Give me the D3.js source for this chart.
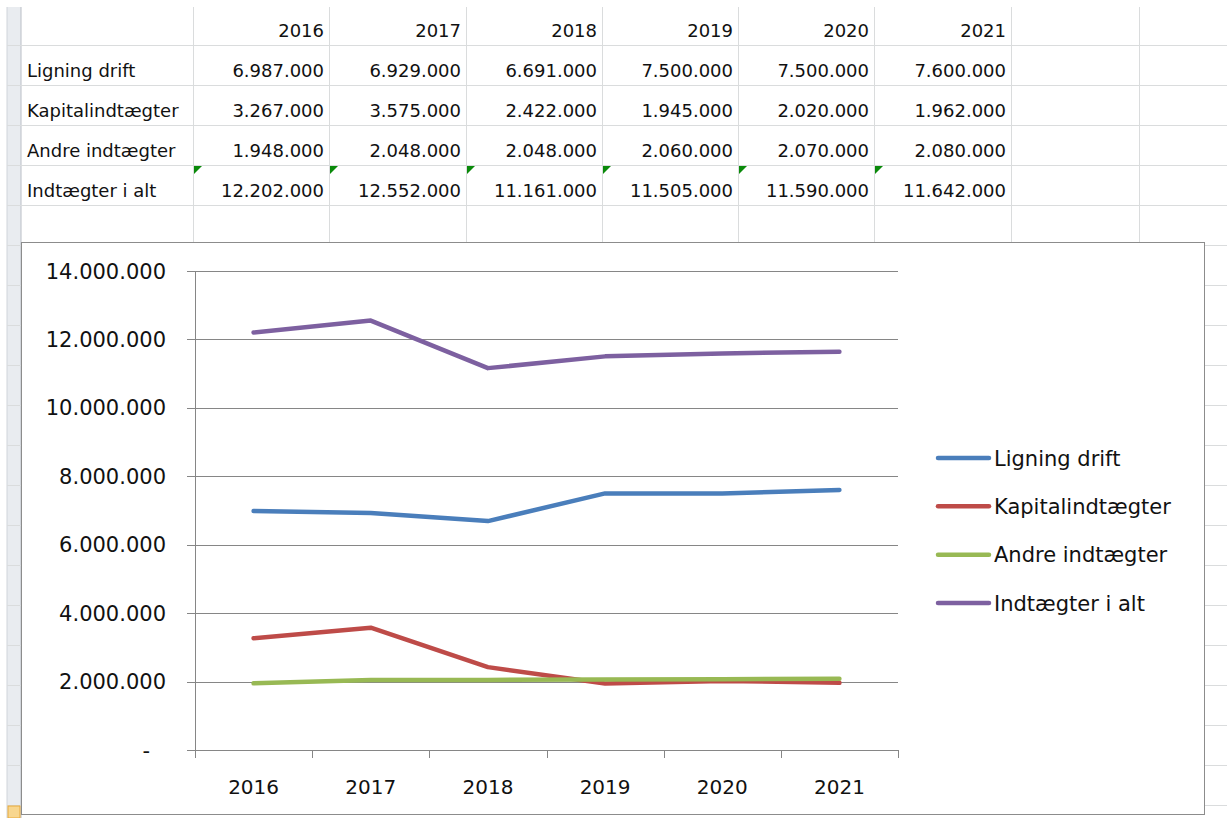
<!DOCTYPE html>
<html>
<head>
<meta charset="utf-8">
<script src="https://cdn.jsdelivr.net/npm/d3@7"></script>
<style>
  html, body { margin: 0; padding: 0; background: #fff; }
  svg { display: block; font-family: 'DejaVu Sans', sans-serif; }
</style>
</head>
<body>
<div id="container"></div>
<script>
const years = ['2016', '2017', '2018', '2019', '2020', '2021'];
const seriesNames = ['Ligning drift', 'Kapitalindtægter', 'Andre indtægter', 'Indtægter i alt'];
const ligningDrift = [6987000, 6929000, 6691000, 7500000, 7500000, 7600000];
const kapitalindtaegter = [3267000, 3575000, 2422000, 1945000, 2020000, 1962000];
const andreIndtaegter = [1948000, 2048000, 2048000, 2060000, 2070000, 2080000];
const indtaegterIAlt = [12202000, 12552000, 11161000, 11505000, 11590000, 11642000];
const yTicks = [0, 2000000, 4000000, 6000000, 8000000, 10000000, 12000000, 14000000];
const seriesColors = ['#4a7ebb', '#be4b48', '#98b954', '#7d60a0'];

const WIDTH = 1227;
const HEIGHT = 818;

const series = [ligningDrift, kapitalindtaegter, andreIndtaegter, indtaegterIAlt].map((values, i) => ({
  name: seriesNames[i],
  color: seriesColors[i],
  values: values,
}));

const da = d3.formatLocale({ decimal: ',', thousands: '.', grouping: [3], currency: ['', ' kr.'] });
const fmt = da.format(',');

const svg = d3
  .select('#container')
  .append('svg')
  .attr('width', WIDTH)
  .attr('height', HEIGHT);

// ---- spreadsheet behind the chart ----
const sheet = svg.append('g').attr('id', 'sheet');
const colEdges = [21, 193, 329, 466, 602, 738, 874, 1011, 1139];
const rowY = d3.scaleLinear().domain([0, 1]).range([5, 45]); // row k top = rowY(k) - 40

// row header strip
sheet.append('rect').attr('x', 7).attr('y', 7).attr('width', 14).attr('height', HEIGHT - 7).attr('fill', '#e9ecf0');
sheet.append('line').attr('x1', 21).attr('x2', 21).attr('y1', 7).attr('y2', HEIGHT).attr('stroke', '#b9bec6');
sheet.append('line').attr('x1', 7).attr('x2', 7).attr('y1', 7).attr('y2', HEIGHT).attr('stroke', '#d0d4da');

const rowLines = d3.range(1, 21).map((k) => rowY(k));
sheet
  .selectAll('line.hrow')
  .data(rowLines)
  .enter()
  .append('line')
  .attr('class', 'hrow')
  .attr('x1', 7)
  .attr('x2', WIDTH)
  .attr('y1', (d) => d + 0.5)
  .attr('y2', (d) => d + 0.5)
  .attr('stroke', '#dadcdd');

sheet
  .selectAll('line.vcol')
  .data(colEdges.slice(1))
  .enter()
  .append('line')
  .attr('class', 'vcol')
  .attr('x1', (d) => d + 0.5)
  .attr('x2', (d) => d + 0.5)
  .attr('y1', 7)
  .attr('y2', 245)
  .attr('stroke', '#dadcdd');

// selected-row marker at the bottom of row header
sheet.append('rect').attr('x', 8).attr('y', 806).attr('width', 12).attr('height', 12).attr('fill', '#f8d68e').attr('stroke', '#e8a93a');

const cellFont = 18;
// header years
sheet
  .selectAll('text.year')
  .data(years)
  .enter()
  .append('text')
  .attr('class', 'year')
  .attr('x', (d, i) => colEdges[i + 2] - 5)
  .attr('y', rowY(0) + 32)
  .attr('text-anchor', 'end')
  .attr('font-size', cellFont)
  .attr('fill', '#111')
  .text((d) => d);

const rows = sheet
  .selectAll('g.row')
  .data(series)
  .enter()
  .append('g')
  .attr('class', 'row')
  .attr('transform', (d, i) => `translate(0, ${rowY(i + 1)})`);

rows
  .append('text')
  .attr('x', 27)
  .attr('y', 32)
  .attr('font-size', cellFont)
  .attr('fill', '#111')
  .text((d) => d.name);

rows
  .selectAll('text.val')
  .data((d) => d.values)
  .enter()
  .append('text')
  .attr('class', 'val')
  .attr('x', (d, i) => colEdges[i + 2] - 5)
  .attr('y', 32)
  .attr('text-anchor', 'end')
  .attr('font-size', cellFont)
  .attr('fill', '#111')
  .text((d) => fmt(d));

// green error-indicator triangles on the total row
rows
  .filter((d, i) => i === 3)
  .selectAll('path.tri')
  .data(years)
  .enter()
  .append('path')
  .attr('class', 'tri')
  .attr('d', (d, i) => {
    const x = colEdges[i + 1] + 1;
    return `M${x},1L${x + 8},1L${x},9Z`;
  })
  .attr('fill', '#0a8a0a');

// ---- chart ----
const chart = svg.append('g').attr('id', 'chart');
chart
  .append('rect')
  .attr('x', 21.5)
  .attr('y', 242.5)
  .attr('width', 1183)
  .attr('height', 572)
  .attr('fill', '#fff')
  .attr('stroke', '#8c8c8c');

const plot = { left: 195, right: 898, top: 271, bottom: 750 };

const x = d3.scaleBand().domain(years).range([plot.left, plot.right]);
const y = d3.scaleLinear().domain([0, 14000000]).range([plot.bottom, plot.top]);

// gridlines
chart
  .append('g')
  .selectAll('line')
  .data(yTicks)
  .enter()
  .append('line')
  .attr('x1', plot.left - 8)
  .attr('x2', plot.right)
  .attr('y1', (d) => Math.round(y(d)) + 0.5)
  .attr('y2', (d) => Math.round(y(d)) + 0.5)
  .attr('stroke', '#868686');

// y axis line
chart
  .append('line')
  .attr('x1', plot.left + 0.5)
  .attr('x2', plot.left + 0.5)
  .attr('y1', plot.top)
  .attr('y2', plot.bottom + 8)
  .attr('stroke', '#868686');

// x ticks at band edges
const xEdges = years.map((d) => x(d)).concat([plot.right]);
chart
  .append('g')
  .selectAll('line')
  .data(xEdges)
  .enter()
  .append('line')
  .attr('x1', (d) => Math.round(d) + 0.5)
  .attr('x2', (d) => Math.round(d) + 0.5)
  .attr('y1', plot.bottom)
  .attr('y2', plot.bottom + 8)
  .attr('stroke', '#868686');

const axisFont = 21;
chart
  .append('g')
  .selectAll('text')
  .data(yTicks)
  .enter()
  .append('text')
  .attr('x', (d) => (d === 0 ? 150 : 166))
  .attr('y', (d) => y(d))
  .attr('dy', '0.36em')
  .attr('text-anchor', 'end')
  .attr('font-size', axisFont)
  .attr('fill', '#111')
  .text((d) => (d === 0 ? '-' : fmt(d)));

chart
  .append('g')
  .selectAll('text')
  .data(years)
  .enter()
  .append('text')
  .attr('x', (d) => x(d) + x.bandwidth() / 2)
  .attr('y', 787)
  .attr('dy', '0.36em')
  .attr('text-anchor', 'middle')
  .attr('font-size', 20)
  .attr('fill', '#111')
  .text((d) => d);

const line = d3
  .line()
  .x((d, i) => x(years[i]) + x.bandwidth() / 2)
  .y((d) => y(d));

chart
  .append('g')
  .selectAll('path')
  .data(series)
  .enter()
  .append('path')
  .attr('d', (d) => line(d.values))
  .attr('fill', 'none')
  .attr('stroke', (d) => d.color)
  .attr('stroke-width', 4.5)
  .attr('stroke-linecap', 'round')
  .attr('stroke-linejoin', 'round');

// legend
const legendY = d3.scaleLinear().domain([0, 3]).range([458, 603]);
const legendItem = chart
  .append('g')
  .selectAll('g')
  .data(series)
  .enter()
  .append('g')
  .attr('transform', (d, i) => `translate(0, ${legendY(i)})`);

legendItem
  .append('line')
  .attr('x1', 938)
  .attr('x2', 989)
  .attr('stroke', (d) => d.color)
  .attr('stroke-width', 4.5)
  .attr('stroke-linecap', 'round');

legendItem
  .append('text')
  .attr('x', 994)
  .attr('dy', '0.36em')
  .attr('font-size', 21)
  .attr('fill', '#111')
  .text((d) => d.name);
</script>
</body>
</html>
